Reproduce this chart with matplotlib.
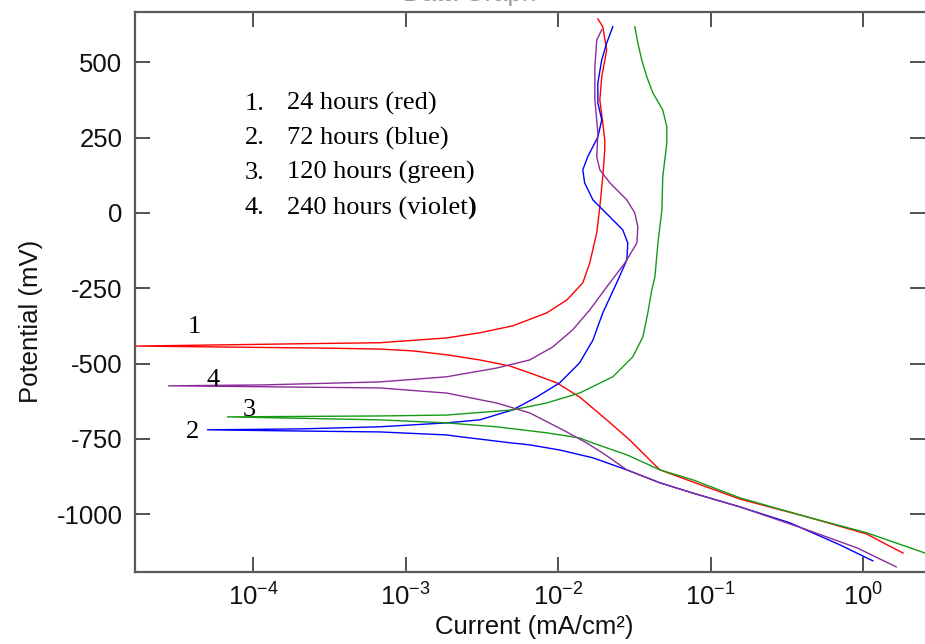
import matplotlib
matplotlib.use("Agg")
import matplotlib.pyplot as plt
from matplotlib.ticker import FixedLocator, NullLocator, LogFormatterSciNotation

plt.rcParams["font.family"] = ["Liberation Sans", "DejaVu Sans"]
plt.rcParams["mathtext.default"] = "regular"
plt.rcParams["axes.unicode_minus"] = False

# Polarization curves: current density (mA/cm^2) vs potential (mV),
# recorded from the cathodic end, through E_corr, up the anodic branch.
i_24h = [1.83, 1.44, 1.06, 0.429, 0.156, 7.64e-2, 4.65e-2, 3.81e-2, 2.95e-2,
         2.08e-2, 1.38e-2, 9.77e-3, 6.5e-3, 4.8e-3, 3.05e-3, 1.85e-3, 1.11e-3,
         6.73e-4, 3.15e-4, 1.7e-5, 3.15e-4, 6.73e-4, 1.85e-3, 3.05e-3, 5.02e-3,
         8.39e-3, 1.14e-2, 1.45e-2, 1.61e-2, 1.79e-2, 1.875e-2, 1.96e-2,
         2.02e-2, 2.02e-2, 1.96e-2, 1.875e-2, 1.93e-2, 2.08e-2, 1.96e-2, 1.82e-2]
E_24h = [-1129, -1102, -1066, -1009, -950, -893, -853, -810, -754,
         -687, -611, -564, -531, -508, -488, -471, -458,
         -452, -449, -442, -433, -431, -415, -398, -375,
         -332, -289, -232, -166, -66, 20, 120,
         209, 242, 299, 375, 452, 541, 618, 644]

i_72h = [1.16, 0.706, 0.332, 0.156, 7.64e-2, 4.65e-2, 2.82e-2, 1.69e-2, 1.023e-2,
         6.5e-3, 5.02e-3, 2.36e-3, 1.85e-3, 6.73e-4, 2.0e-4, 4.99e-5, 2.0e-4,
         6.73e-4, 1.85e-3, 3.05e-3, 5.02e-3, 7.23e-3, 1.023e-2, 1.38e-2, 1.69e-2,
         1.96e-2, 2.42e-2, 2.82e-2, 2.86e-2, 2.65e-2, 2.18e-2, 1.69e-2, 1.49e-2,
         1.45e-2, 1.56e-2, 1.82e-2, 1.93e-2, 1.82e-2, 1.82e-2, 1.93e-2, 2.08e-2,
         2.28e-2]
E_72h = [-1155, -1102, -1029, -976, -930, -896, -853, -813, -787,
         -770, -764, -744, -737, -727, -724, -720, -717,
         -710, -697, -687, -654, -611, -564, -498, -422,
         -332, -232, -156, -100, -56, -13, 43, 100,
         143, 186, 252, 309, 365, 432, 508, 564,
         618]

i_120h = [3.2, 2.55, 1.06, 0.429, 0.156, 7.64e-2, 4.65e-2, 2.82e-2, 1.69e-2,
          1.38e-2, 8.39e-3, 3.94e-3, 1.85e-3, 6.73e-4, 6.75e-5, 6.73e-4, 1.85e-3,
          5.02e-3, 8.39e-3, 1.38e-2, 2.28e-2, 3.08e-2, 3.59e-2, 3.87e-2, 4.11e-2,
          4.31e-2, 4.51e-2, 4.79e-2, 4.85e-2, 5.16e-2, 5.16e-2, 4.85e-2, 4.18e-2,
          3.81e-2, 3.53e-2, 3.33e-2, 3.18e-2]
E_120h = [-1145, -1129, -1062, -1009, -946, -886, -853, -803, -764,
          -747, -730, -710, -697, -687, -677, -674, -671,
          -654, -631, -598, -544, -478, -412, -332, -256,
          -212, -100, 10, 120, 232, 286, 342, 398,
          452, 508, 564, 618]

i_240h = [1.65, 0.914, 0.429, 0.156, 7.64e-2, 4.65e-2, 2.82e-2, 1.96e-2, 1.54e-2,
          1.07e-2, 6.5e-3, 3.94e-3, 1.85e-3, 6.73e-4, 1.15e-4, 2.77e-5, 1.15e-4,
          6.73e-4, 1.85e-3, 3.94e-3, 6.5e-3, 9.2e-3, 1.245e-2, 1.61e-2, 2.18e-2,
          2.74e-2, 3.28e-2, 3.33e-2, 3.18e-2, 2.82e-2, 2.18e-2, 1.875e-2, 1.79e-2,
          1.82e-2, 1.74e-2, 1.74e-2, 1.79e-2, 1.93e-2]
E_240h = [-1175, -1112, -1052, -976, -930, -896, -853, -797, -764,
          -720, -664, -631, -598, -581, -577, -574, -571,
          -561, -544, -515, -488, -445, -388, -322, -232,
          -166, -100, -46, 0, 43, 100, 143, 186,
          266, 375, 485, 574, 608]

series = [
    (i_24h, E_24h, "#ff0000"),
    (i_72h, E_72h, "#0000ff"),
    (i_120h, E_120h, "#169a16"),
    (i_240h, E_240h, "#8a2d98"),
]

legend_nums = ["1.", "2.", "3.", "4."]
legend_texts = ["24 hours (red)", "72 hours (blue)", "120 hours (green)", "240 hours (violet"]

curve_tags = ["1", "4", "3", "2"]
tag_x = [4.1e-5, 5.4e-5, 9.4e-5, 4.0e-5]
tag_y = [-378, -554, -654, -727]

x_ticks = [1e-4, 1e-3, 1e-2, 1e-1, 1e0]
y_ticks = [-1000, -750, -500, -250, 0, 250, 500]

fig = plt.figure(figsize=(9.25, 6.44), dpi=100)
ax = fig.add_axes([0.1459, 0.1118, 0.8541, 0.8696])

for cur, pot, col in series:
    ax.plot(cur, pot, color=col, lw=1.0, solid_joinstyle="round")

ax.set_xscale("log")
ax.set_xlim(1.67e-5, 2.55)
ax.set_ylim(-1192, 667)
ax.xaxis.set_major_locator(FixedLocator(x_ticks))
ax.xaxis.set_major_formatter(LogFormatterSciNotation())
ax.xaxis.set_minor_locator(NullLocator())
ax.yaxis.set_major_locator(FixedLocator(y_ticks))
ax.yaxis.set_minor_locator(NullLocator())

ax.tick_params(which="major", direction="in", top=True, right=True,
               length=11, width=1.1, color="#222222", labelsize=18.5,
               labelcolor="#111111")
ax.tick_params(axis="x", pad=8)
ax.tick_params(axis="y", pad=9)

for side in ("left", "bottom", "top"):
    ax.spines[side].set_color("#5a5a5a")
    ax.spines[side].set_linewidth(1.6)
ax.spines["right"].set_visible(False)

ax.set_xlabel("Current (mA/cm²)", fontsize=18.5, color="#111111")
ax.set_ylabel("Potential (mV)", fontsize=18.5, color="#111111")
ax.xaxis.set_label_coords(0.505, -0.077)
ax.yaxis.set_label_coords(-0.117, 0.448)

serif = ["Liberation Serif", "DejaVu Serif"]
ys = [0.836, 0.775, 0.713, 0.650]
last = None
for num, txt, yy in zip(legend_nums, legend_texts, ys):
    ax.text(0.139, yy, num, transform=ax.transAxes, family=serif,
            fontsize=19, va="center", ha="left")
    last = ax.text(0.192, yy, txt, transform=ax.transAxes, family=serif,
                   fontsize=19, va="center", ha="left")
ax.annotate(")", xy=(1, 0), xycoords=last, va="bottom", ha="left",
            family=serif, fontsize=19, fontweight="bold")

for tag, tx, ty in zip(curve_tags, tag_x, tag_y):
    ax.text(tx, ty, tag, family=serif, fontsize=19, ha="center", va="center")

fig.text(470 / 925, 1 - 1 / 644, "Data Graph", ha="center", va="baseline",
         fontsize=18.5, color="#9a9a9a")

fig.savefig("out.png", dpi=100)
